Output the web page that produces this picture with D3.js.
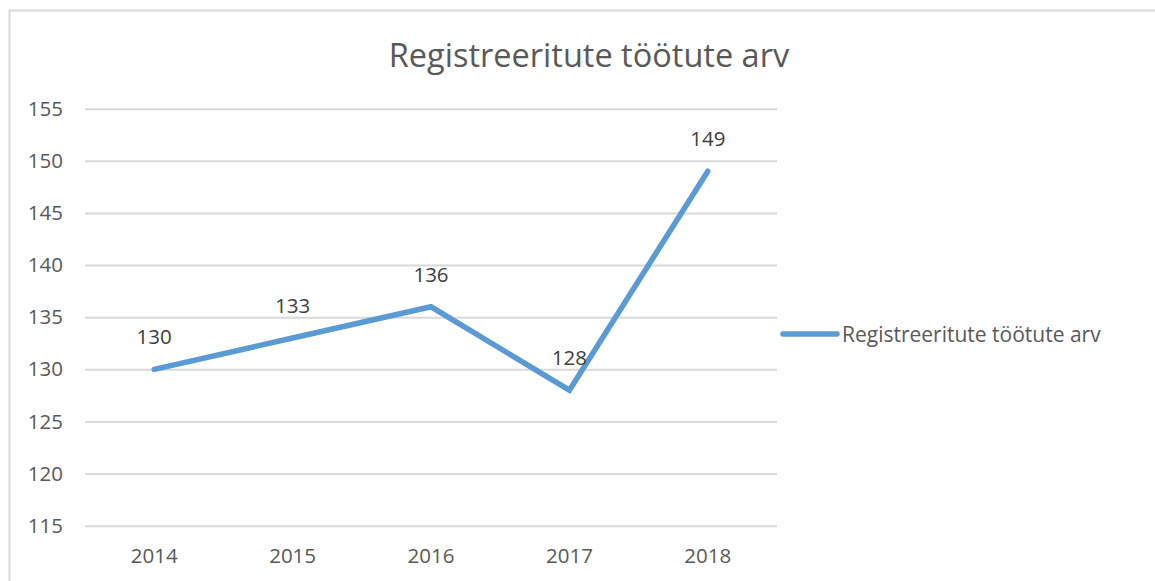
<!DOCTYPE html>
<html>
<head>
<meta charset="utf-8">
<script src="https://cdn.jsdelivr.net/npm/d3@7"></script>
<style>
  body { margin: 0; background: #fff; }
</style>
</head>
<body>
<div id="chart"></div>
<script>
// data
const years = ["2014", "2015", "2016", "2017", "2018"];
const values = [130, 133, 136, 128, 149];
const yTicks = [115, 120, 125, 130, 135, 140, 145, 150, 155];
const title = "Registreeritute töötute arv";
const seriesName = "Registreeritute töötute arv";

const width = 1155;
const height = 581;
const margin = { top: 108.7, right: 378, bottom: 55.3, left: 85 };
const plotW = width - margin.left - margin.right;
const plotH = height - margin.top - margin.bottom;
const font = "'Open Sans', sans-serif";

const svg = d3
  .select("#chart")
  .append("svg")
  .attr("width", width)
  .attr("height", height);

// chart border (cut off at right and bottom)
svg
  .append("rect")
  .attr("x", 9.5)
  .attr("y", 10.5)
  .attr("width", 1200)
  .attr("height", 700)
  .attr("fill", "none")
  .attr("stroke", "#d9d9d9")
  .attr("stroke-width", 2);

// title
svg
  .append("text")
  .attr("x", 589)
  .attr("y", 67)
  .attr("text-anchor", "middle")
  .style("font-family", font)
  .style("font-size", "32.5px")
  .attr("fill", "#595959")
  .text(title);

const g = svg
  .append("g")
  .attr("transform", `translate(${margin.left},${margin.top})`);

// X scale
const x = d3.scaleBand().domain(years).range([0, plotW]);

// Y scale
const y = d3
  .scaleLinear()
  .domain([d3.min(yTicks), d3.max(yTicks)])
  .range([plotH, 0]);

// gridlines
g.append("g")
  .call(d3.axisLeft(y).tickValues(yTicks).tickSize(-plotW).tickFormat(""))
  .call((s) => s.select(".domain").remove())
  .selectAll("line")
  .attr("stroke", "#d9d9d9")
  .attr("stroke-width", 2);

// Y axis labels
g.append("g")
  .call(d3.axisLeft(y).tickValues(yTicks).tickSize(0).tickPadding(22))
  .call((s) => s.select(".domain").remove())
  .selectAll("text")
  .style("font-family", font)
  .style("font-size", "20.5px")
  .attr("fill", "#595959");

// X axis labels
g.append("g")
  .attr("transform", `translate(0,${plotH})`)
  .call(d3.axisBottom(x).tickSize(0).tickPadding(23))
  .call((s) => s.select(".domain").remove())
  .selectAll("text")
  .style("font-family", font)
  .style("font-size", "20.5px")
  .attr("fill", "#595959");

// line
const line = d3
  .line()
  .x((d, i) => x(years[i]) + x.bandwidth() / 2)
  .y((d) => y(d));

g.append("path")
  .datum(values)
  .attr("d", line)
  .attr("fill", "none")
  .attr("stroke", "#5b9bd5")
  .attr("stroke-width", 5.5)
  .attr("stroke-linejoin", "miter")
  .attr("stroke-linecap", "round");

// data labels
g.selectAll(".label")
  .data(values)
  .enter()
  .append("text")
  .attr("class", "label")
  .attr("x", (d, i) => x(years[i]) + x.bandwidth() / 2)
  .attr("y", (d) => y(d) - 25)
  .attr("text-anchor", "middle")
  .style("font-family", font)
  .style("font-size", "20.5px")
  .attr("fill", "#404040")
  .text((d) => d);

// legend
const legend = svg.append("g").attr("transform", "translate(783,334)");
legend
  .append("line")
  .attr("x1", 0)
  .attr("x2", 54)
  .attr("stroke", "#5b9bd5")
  .attr("stroke-width", 5.5)
  .attr("stroke-linecap", "round");
legend
  .append("text")
  .attr("x", 59)
  .attr("y", 7.5)
  .style("font-family", font)
  .style("font-size", "21px")
  .attr("fill", "#595959")
  .text(seriesName);
</script>
</body>
</html>
